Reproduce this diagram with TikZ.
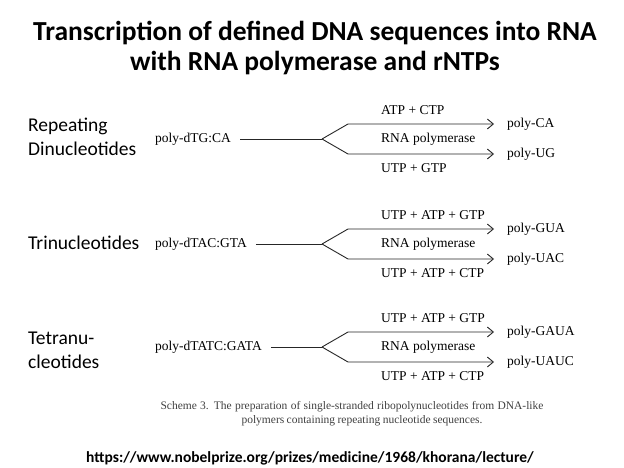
\documentclass[tikz,border=0pt]{standalone}
\usepackage{fontspec}
\setmainfont{Liberation Serif}
\newfontfamily\calibri{Carlito}
\usetikzlibrary{arrows.meta,positioning,calc}

\tikzset{
  heading/.style={font=\calibri\bfseries\fontsize{27.5}{30}\selectfont, align=center, inner sep=0pt},
  group/.style={font=\calibri\fontsize{19.5}{24}\selectfont, align=left, anchor=west, inner sep=0pt},
  chem/.style={font=\fontsize{13.5}{15}\selectfont, anchor=west, inner sep=0pt},
  caption/.style={font=\fontsize{11.5}{13}\selectfont, text=black!75, inner sep=0pt},
  link/.style={font=\calibri\bfseries\fontsize{15.5}{18}\selectfont, inner sep=0pt},
  strand/.style={line width=0.9pt, draw=black!85},
  branch/.style={strand, -{Straight Barb[length=6pt,width=10pt]}, shorten >=13pt},
}

\begin{document}
\begin{tikzpicture}[x=1pt,y=-1pt]
  \useasboundingbox (0,0) rectangle (624,468);

  % Titel
  \node[heading] (title) at (315,48) {Transcription of defined DNA sequences into RNA\\with RNA polymerase and rNTPs};

  % Gruppen
  \node[group] (dinuc) at (28,137) {Repeating\\Dinucleotides};
  \node[group] (trinuc) at (28,243) {Trinucleotides};
  \node[group] (tetranuc) at (28,350) {Tetranu-\\cleotides};

  % Schemata
  \foreach \n/\y/\dna/\up/\down/\prodA/\prodB in {
      di/139/poly-dTG:CA/ATP + CTP/UTP + GTP/poly-CA/poly-UG,
      tri/244/poly-dTAC:GTA/UTP + ATP + GTP/UTP + ATP + CTP/poly-GUA/poly-UAC,
      tetra/347/poly-dTATC:GATA/UTP + ATP + GTP/UTP + ATP + CTP/poly-GAUA/poly-UAUC} {
    \node[chem] (\n-dna) at (155,\y) {\dna};
    \coordinate (\n-fork) at (322,\y);
    \coordinate (\n-top) at (348,\y-15);
    \coordinate (\n-bot) at (348,\y+15);
    \node[chem] (\n-ntpA) at (381,\y-29) {\up};
    \node[chem] (\n-pol) at (381,\y) {RNA polymerase};
    \node[chem] (\n-ntpB) at (381,\y+29) {\down};
    \node[chem] (\n-rnaA) at (507,\y-15) {\prodA};
    \node[chem] (\n-rnaB) at (507,\y+15) {\prodB};
    \draw[strand, shorten <=9pt] (\n-dna) -- (\n-fork);
    \draw[branch] (\n-fork) -- (\n-top) -- (\n-rnaA);
    \draw[branch] (\n-fork) -- (\n-bot) -- (\n-rnaB);
  }

  % Legende
  \node[caption] (cap1) at (352,407) {\makebox[383pt][s]{Scheme 3. The preparation of single-stranded ribopolynucleotides from DNA-like}};
  \node[caption] (cap2) at (362,421) {\makebox[241pt][s]{polymers containing repeating nucleotide sequences.}};

  \node[link] (url) at (310,458) {https://www.nobelprize.org/prizes/medicine/1968/khorana/lecture/};
\end{tikzpicture}
\end{document}
